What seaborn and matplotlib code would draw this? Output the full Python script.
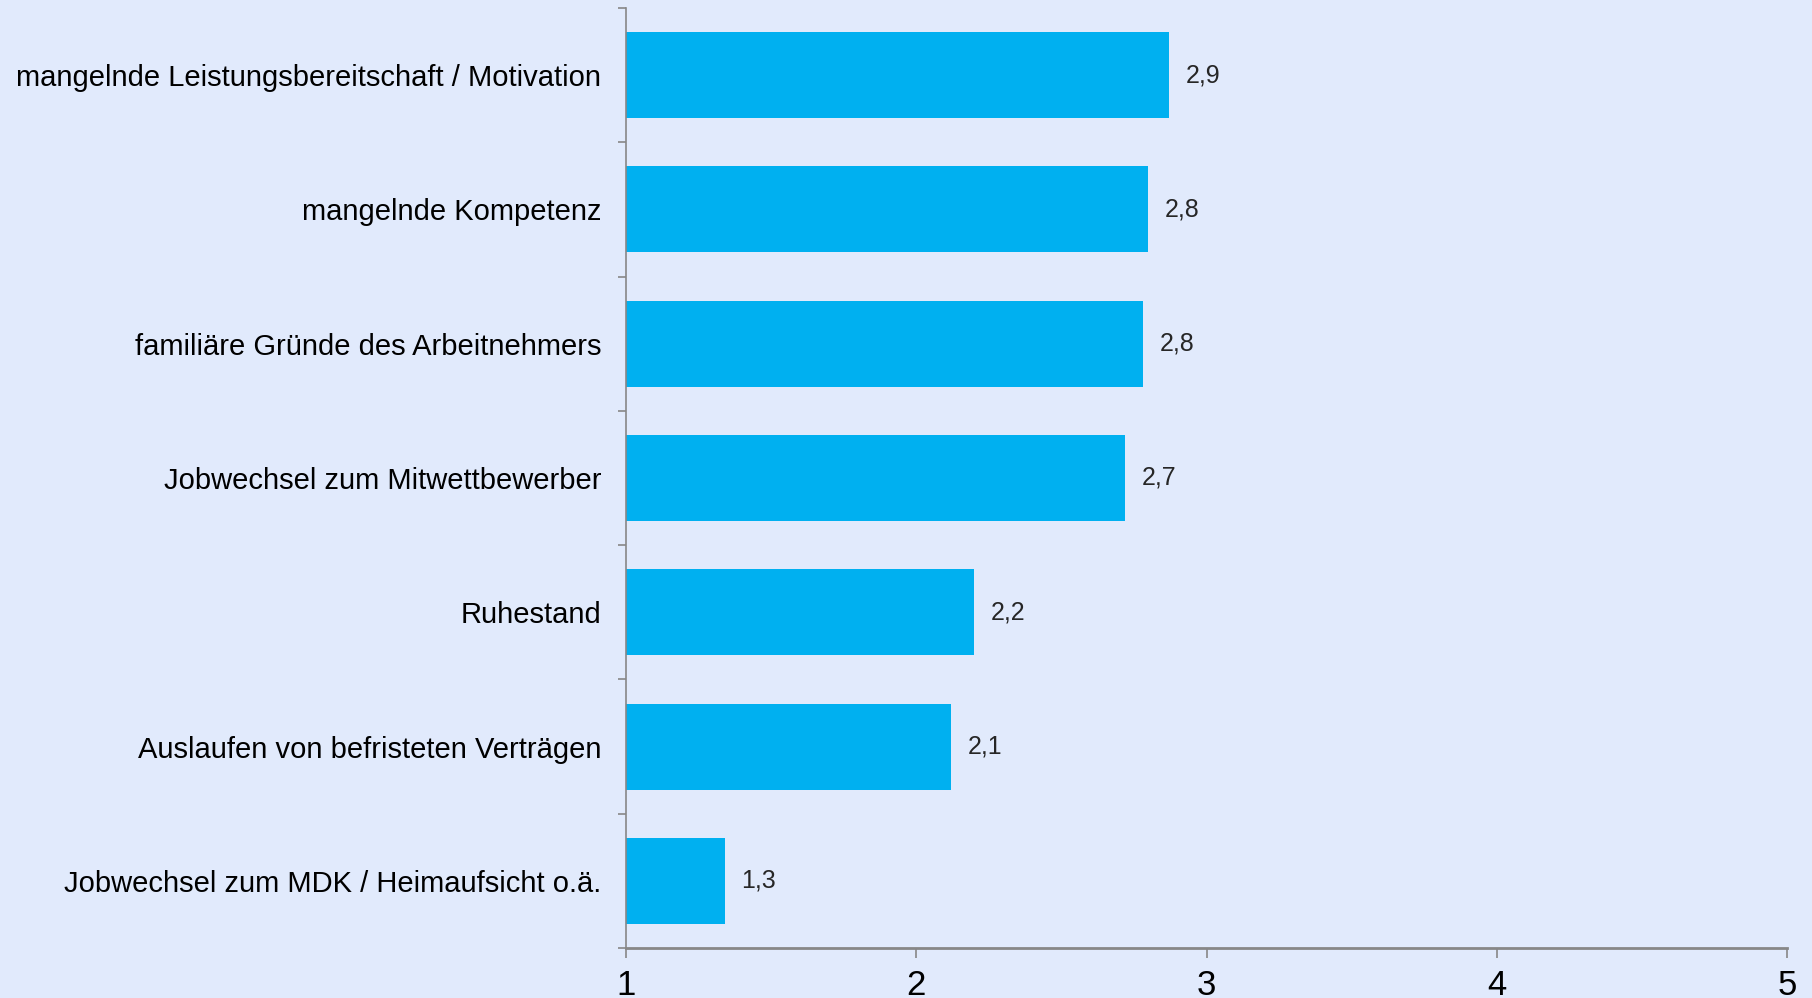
"""
Horizontal bar chart: Gründe für das Ausscheiden von Mitarbeitern
(mean rating on a 1-5 scale)
"""

import numpy as np
import matplotlib
matplotlib.use("Agg")
import matplotlib.pyplot as plt
import seaborn as sns

# ==============================
# 1. DATA
# ==============================
categories = [
    "mangelnde Leistungsbereitschaft / Motivation",
    "mangelnde Kompetenz",
    "familiäre Gründe des Arbeitnehmers",
    "Jobwechsel zum Mitwettbewerber",
    "Ruhestand",
    "Auslaufen von befristeten Verträgen",
    "Jobwechsel zum MDK / Heimaufsicht o.ä.",
]
values = [2.87, 2.80, 2.78, 2.72, 2.20, 2.12, 1.34]
x_ticks = [1, 2, 3, 4, 5]

# ==============================
# 2. STYLE
# ==============================
bg = "#E1EAFC"
bar_color = "#00B0F0"
axis_grey = "#878787"

sns.set_style("white")
plt.rcParams["font.family"] = ["Liberation Sans", "DejaVu Sans"]

fig = plt.figure(figsize=(18.12, 9.98), dpi=100, facecolor=bg)
ax = fig.add_axes([0.3455, 0.0501, 0.6407, 0.9419])
ax.set_facecolor(bg)

# ==============================
# 3. BARS
# ==============================
sns.barplot(x=values, y=categories, orient="h", color=bar_color,
            saturation=1, width=0.64, linewidth=0, edgecolor=bar_color, ax=ax)

ax.set_xlim(1, 5)
ax.set_ylim(6.5, -0.5)
ax.set_xticks(x_ticks)
ax.set_xticklabels([str(t) for t in x_ticks], fontsize=25)
ax.set_xlabel("")
ax.set_ylabel("")

# category labels without tick marks, boundary ticks as minor
ax.tick_params(axis="y", which="major", left=True, length=0, pad=18,
               labelsize=21, labelcolor="black")
ax.set_yticks(np.arange(-0.5, len(categories), 1), minor=True)
ax.tick_params(axis="y", which="minor", left=True, length=6, width=1.2,
               color=axis_grey)
ax.tick_params(axis="x", which="major", bottom=True, length=7, width=1.2,
               color=axis_grey, pad=8, labelcolor="black")

for side in ["top", "right"]:
    ax.spines[side].set_visible(False)
ax.spines["left"].set_color(axis_grey)
ax.spines["left"].set_linewidth(1.2)
ax.spines["bottom"].set_color(axis_grey)
ax.spines["bottom"].set_linewidth(2)

# value labels with German decimal comma
labels = [f"{v:.1f}".replace(".", ",") for v in values]
ax.bar_label(ax.containers[0], labels=labels, padding=12, fontsize=18)

plt.savefig("out.png", dpi=100, facecolor=bg)
